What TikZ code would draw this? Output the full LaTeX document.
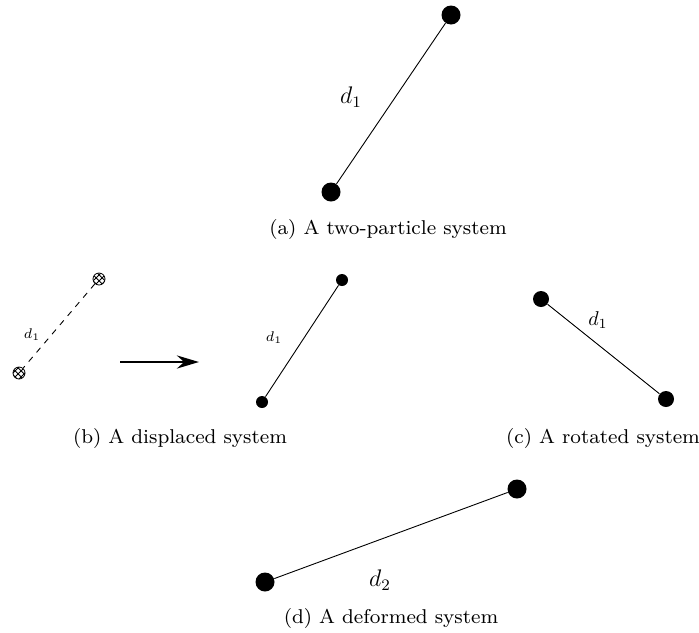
\documentclass[tikz,border=0pt]{standalone}
\usepackage{graphicx}
\usetikzlibrary{patterns,arrows.meta}
\newcommand{\capfont}[1]{\scalebox{1.25}{\footnotesize #1}}
\begin{document}
\begin{tikzpicture}[x=0.5pt,y=-0.5pt,
  pbig/.style={circle,fill=black,inner sep=0pt,minimum size=9.5pt},
  pmid/.style={circle,fill=black,inner sep=0pt,minimum size=8pt},
  psmall/.style={circle,fill=black,inner sep=0pt,minimum size=6pt},
  phatch/.style={circle,draw=black,pattern=crosshatch,inner sep=0pt,minimum size=6pt},
  bond/.style={draw=black,line width=0.45pt},
  captext/.style={inner sep=0pt}]
\useasboundingbox (0,0) rectangle (699,632);
% (a)
\node[pbig] (a1) at (451,15) {};
\node[pbig] (a2) at (331,192) {};
\draw[bond] (a1) -- (a2);
\node[font=\large] (la) at (351,97) {$d_1$};
\node[captext] (ca) at (388,229) {\capfont{(a) A two-particle system}};
% (b)
\node[phatch] (b1) at (99,279) {};
\node[phatch] (b2) at (19,373) {};
\draw[bond,dashed] (b1) -- (b2);
\node[font=\scriptsize] (lb) at (32,335) {$d_1$};
\coordinate (ar1) at (120,362);
\coordinate (ar2) at (199,362);
\draw[line width=1.4pt,-{Stealth[length=11pt,width=6.5pt]}] (ar1) -- (ar2);
\node[psmall] (b3) at (342,280) {};
\node[psmall] (b4) at (262,402) {};
\draw[bond] (b3) -- (b4);
\node[font=\scriptsize] (lb2) at (274,338) {$d_1$};
\node[captext] (cb) at (180,438) {\capfont{(b) A displaced system}};
% (c)
\node[pmid] (c1) at (541,299) {};
\node[pmid] (c2) at (666,399) {};
\draw[bond] (c1) -- (c2);
\node[font=\normalsize] (lc) at (598,320) {$d_1$};
\node[captext] (cc) at (603,438) {\capfont{(c) A rotated system}};
% (d)
\node[pbig] (d1) at (517,489) {};
\node[pbig] (d2) at (265,582) {};
\draw[bond] (d1) -- (d2);
\node[font=\large] (ld) at (380,580) {$d_2$};
\node[captext] (cd) at (391,618) {\capfont{(d) A deformed system}};
\end{tikzpicture}
\end{document}
